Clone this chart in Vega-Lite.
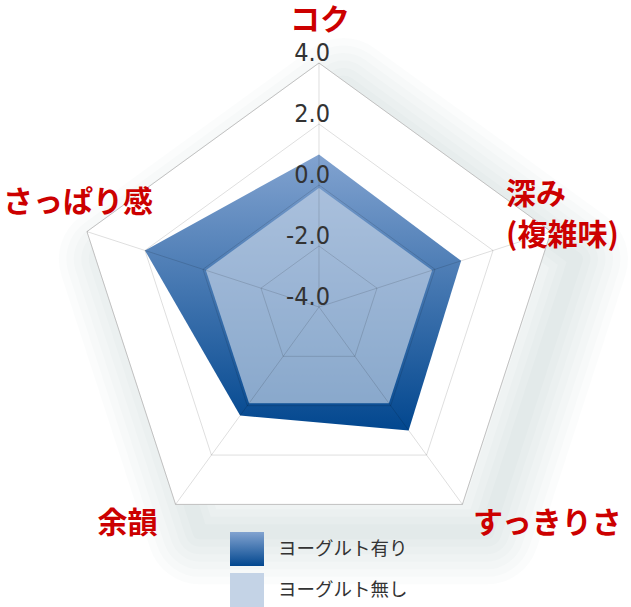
{
  "$schema": "https://vega.github.io/schema/vega-lite/v6.json",
  "width": 631,
  "height": 607,
  "padding": 0,
  "autosize": "none",
  "background": "white",
  "config": {
    "view": {"stroke": null},
    "legend": {
      "orient": "none",
      "legendX": 230,
      "legendY": 532,
      "padding": 0,
      "symbolType": "square",
      "symbolSize": 1156,
      "symbolStrokeWidth": 0,
      "symbolOpacity": 1,
      "labelFont": "Noto Sans CJK JP",
      "labelFontSize": 18.5,
      "labelColor": "#333333",
      "labelOffset": 14,
      "rowPadding": 7
    }
  },
  "data": {
    "values": [
      {"kind": "grid", "value": -2, "i": 0}, {"kind": "grid", "value": -2, "i": 1}, {"kind": "grid", "value": -2, "i": 2}, {"kind": "grid", "value": -2, "i": 3}, {"kind": "grid", "value": -2, "i": 4},
      {"kind": "grid", "value": 0, "i": 0}, {"kind": "grid", "value": 0, "i": 1}, {"kind": "grid", "value": 0, "i": 2}, {"kind": "grid", "value": 0, "i": 3}, {"kind": "grid", "value": 0, "i": 4},
      {"kind": "grid", "value": 2, "i": 0}, {"kind": "grid", "value": 2, "i": 1}, {"kind": "grid", "value": 2, "i": 2}, {"kind": "grid", "value": 2, "i": 3}, {"kind": "grid", "value": 2, "i": 4},
      {"kind": "grid", "value": 4, "i": 0}, {"kind": "grid", "value": 4, "i": 1}, {"kind": "grid", "value": 4, "i": 2}, {"kind": "grid", "value": 4, "i": 3}, {"kind": "grid", "value": 4, "i": 4},
      {"kind": "score", "series": "ヨーグルト有り", "axis": "コク", "i": 0, "value": 1.0},
      {"kind": "score", "series": "ヨーグルト有り", "axis": "深み（複雑味）", "i": 1, "value": 0.9},
      {"kind": "score", "series": "ヨーグルト有り", "axis": "すっきりさ", "i": 2, "value": 1.0},
      {"kind": "score", "series": "ヨーグルト有り", "axis": "余韻", "i": 3, "value": 0.4},
      {"kind": "score", "series": "ヨーグルト有り", "axis": "さっぱり感", "i": 4, "value": 2.0},
      {"kind": "score", "series": "ヨーグルト無し", "axis": "コク", "i": 0, "value": -0.1},
      {"kind": "score", "series": "ヨーグルト無し", "axis": "深み（複雑味）", "i": 1, "value": -0.1},
      {"kind": "score", "series": "ヨーグルト無し", "axis": "すっきりさ", "i": 2, "value": -0.1},
      {"kind": "score", "series": "ヨーグルト無し", "axis": "余韻", "i": 3, "value": -0.1},
      {"kind": "score", "series": "ヨーグルト無し", "axis": "さっぱり感", "i": 4, "value": -0.1},
      {"kind": "tick", "value": 4, "i": 0, "label": "4.0"},
      {"kind": "tick", "value": 2, "i": 0, "label": "2.0"},
      {"kind": "tick", "value": 0, "i": 0, "label": "0.0"},
      {"kind": "tick", "value": -2, "i": 0, "label": "-2.0"},
      {"kind": "tick", "value": -4, "i": 0, "label": "-4.0"},
      {"kind": "label", "value": 4, "i": 0, "label": "コク"},
      {"kind": "label", "value": 4, "i": 1, "label": "深み\n(複雑味)"},
      {"kind": "label", "value": 4, "i": 2, "label": "すっきりさ"},
      {"kind": "label", "value": 4, "i": 3, "label": "余韻"},
      {"kind": "label", "value": 4, "i": 4, "label": "さっぱり感"}
    ]
  },
  "transform": [
    {"calculate": "datum.value + 4", "as": "r"},
    {"calculate": "datum.r * sin(datum.i * 2 * PI / 5)", "as": "px"},
    {"calculate": "datum.r * cos(datum.i * 2 * PI / 5)", "as": "py"}
  ],
  "encoding": {
    "x": {"field": "px", "type": "quantitative", "scale": {"domain": [-10.459, 10.23], "nice": false, "zero": false}, "axis": null},
    "y": {"field": "py", "type": "quantitative", "scale": {"domain": [-9.836, 10.066], "nice": false, "zero": false}, "axis": null},
    "order": {"field": "i", "type": "quantitative"}
  },
  "layer": [
    {
      "transform": [{"filter": "datum.kind == 'grid' && datum.value == 4"}, {"calculate": "datum.px + 0.8", "as": "px"}, {"calculate": "datum.py - 0.9", "as": "py"}],
      "mark": {"type": "line", "interpolate": "linear-closed", "stroke": "#5f7389", "strokeOpacity": 0.022, "strokeWidth": 105, "strokeJoin": "round"}
    },
    {
      "transform": [{"filter": "datum.kind == 'grid' && datum.value == 4"}, {"calculate": "datum.px + 0.8", "as": "px"}, {"calculate": "datum.py - 0.9", "as": "py"}],
      "mark": {"type": "line", "interpolate": "linear-closed", "stroke": "#5f7389", "strokeOpacity": 0.022, "strokeWidth": 90, "strokeJoin": "round"}
    },
    {
      "transform": [{"filter": "datum.kind == 'grid' && datum.value == 4"}, {"calculate": "datum.px + 0.8", "as": "px"}, {"calculate": "datum.py - 0.9", "as": "py"}],
      "mark": {"type": "line", "interpolate": "linear-closed", "stroke": "#5f7389", "strokeOpacity": 0.022, "strokeWidth": 75, "strokeJoin": "round"}
    },
    {
      "transform": [{"filter": "datum.kind == 'grid' && datum.value == 4"}, {"calculate": "datum.px + 0.8", "as": "px"}, {"calculate": "datum.py - 0.9", "as": "py"}],
      "mark": {"type": "line", "interpolate": "linear-closed", "stroke": "#5f7389", "strokeOpacity": 0.022, "strokeWidth": 60, "strokeJoin": "round"}
    },
    {
      "transform": [{"filter": "datum.kind == 'grid' && datum.value == 4"}, {"calculate": "datum.px + 0.8", "as": "px"}, {"calculate": "datum.py - 0.9", "as": "py"}],
      "mark": {"type": "line", "interpolate": "linear-closed", "stroke": "#5f7389", "strokeOpacity": 0.022, "strokeWidth": 45, "strokeJoin": "round"}
    },
    {
      "transform": [{"filter": "datum.kind == 'grid' && datum.value == 4"}, {"calculate": "datum.px + 0.8", "as": "px"}, {"calculate": "datum.py - 0.9", "as": "py"}],
      "mark": {"type": "line", "interpolate": "linear-closed", "stroke": "#5f7389", "strokeOpacity": 0.022, "strokeWidth": 30, "strokeJoin": "round"}
    },
    {
      "transform": [{"filter": "datum.kind == 'grid' && datum.value == 4"}, {"calculate": "datum.px + 0.8", "as": "px"}, {"calculate": "datum.py - 0.9", "as": "py"}],
      "mark": {"type": "line", "interpolate": "linear-closed", "stroke": "#5f7389", "strokeOpacity": 0.022, "strokeWidth": 15, "strokeJoin": "round"}
    },
    {
      "transform": [{"filter": "datum.kind == 'grid' && datum.value == 4"}],
      "mark": {"type": "line", "interpolate": "linear-closed", "fill": "white", "stroke": "#dddddd", "strokeWidth": 1}
    },
    {
      "transform": [{"filter": "datum.kind == 'score' && datum.series == 'ヨーグルト有り'"}],
      "mark": {"type": "line", "interpolate": "linear-closed", "strokeWidth": 0},
      "encoding": {
        "fill": {
          "field": "series", "type": "nominal",
          "scale": {
            "domain": ["ヨーグルト有り", "ヨーグルト無し"],
            "range": [
              {"expr": "{gradient: 'linear', x1: 0, y1: 0, x2: 0, y2: 1, stops: [{offset: 0, color: '#82a3d0'}, {offset: 1, color: '#02478f'}]}"},
              "#c4d3e6"
            ]
          },
          "legend": {"title": null}
        }
      }
    },
    {
      "transform": [{"filter": "datum.kind == 'score' && datum.series == 'ヨーグルト無し'"}],
      "mark": {"type": "line", "interpolate": "linear-closed", "strokeWidth": 0, "fillOpacity": 0.68},
      "encoding": {
        "fill": {"field": "series", "type": "nominal", "legend": {"title": null}}
      }
    },
    {
      "transform": [{"filter": "datum.kind == 'grid'"}],
      "mark": {"type": "line", "interpolate": "linear-closed", "stroke": "#000000", "strokeOpacity": 0.13, "strokeWidth": 1},
      "encoding": {"detail": {"field": "value", "type": "nominal"}}
    },
    {
      "transform": [{"filter": "datum.kind == 'grid' && datum.value == 4"}],
      "mark": {"type": "rule", "stroke": "#000000", "strokeOpacity": 0.13, "strokeWidth": 1},
      "encoding": {"x2": {"datum": 0}, "y2": {"datum": 0}}
    },
    {
      "transform": [{"filter": "datum.kind == 'tick'"}],
      "mark": {"type": "text", "align": "right", "baseline": "alphabetic", "dx": 11, "dy": -2, "font": "Liberation Sans Narrow, DejaVu Sans Condensed, Roboto", "fontSize": 25, "fill": "#333333"},
      "encoding": {"text": {"field": "label", "type": "nominal"}}
    },
    {
      "transform": [{"filter": "datum.kind == 'label' && datum.i == 0"}],
      "mark": {"type": "text", "align": "center", "baseline": "alphabetic", "dx": 1, "dy": -33, "font": "Noto Sans CJK JP", "fontWeight": "bold", "fontSize": 30, "fill": "#cc0000"},
      "encoding": {"text": {"field": "label", "type": "nominal"}}
    },
    {
      "transform": [{"filter": "datum.kind == 'label' && datum.i == 1"}],
      "mark": {"type": "text", "align": "left", "baseline": "alphabetic", "dx": -45, "dy": -28, "lineBreak": "\n", "lineHeight": 41, "font": "Noto Sans CJK JP", "fontWeight": "bold", "fontSize": 30, "fill": "#cc0000"},
      "encoding": {"text": {"field": "label", "type": "nominal"}}
    },
    {
      "transform": [{"filter": "datum.kind == 'label' && datum.i == 2"}],
      "mark": {"type": "text", "align": "center", "baseline": "alphabetic", "dx": 85, "dy": 29, "font": "Noto Sans CJK JP", "fontWeight": "bold", "fontSize": 30, "fill": "#cc0000"},
      "encoding": {"text": {"field": "label", "type": "nominal"}}
    },
    {
      "transform": [{"filter": "datum.kind == 'label' && datum.i == 3"}],
      "mark": {"type": "text", "align": "center", "baseline": "alphabetic", "dx": -48, "dy": 29, "font": "Noto Sans CJK JP", "fontWeight": "bold", "fontSize": 30, "fill": "#cc0000"},
      "encoding": {"text": {"field": "label", "type": "nominal"}}
    },
    {
      "transform": [{"filter": "datum.kind == 'label' && datum.i == 4"}],
      "mark": {"type": "text", "align": "center", "baseline": "alphabetic", "dx": -9, "dy": -20, "font": "Noto Sans CJK JP", "fontWeight": "bold", "fontSize": 30, "fill": "#cc0000"},
      "encoding": {"text": {"field": "label", "type": "nominal"}}
    }
  ]
}
